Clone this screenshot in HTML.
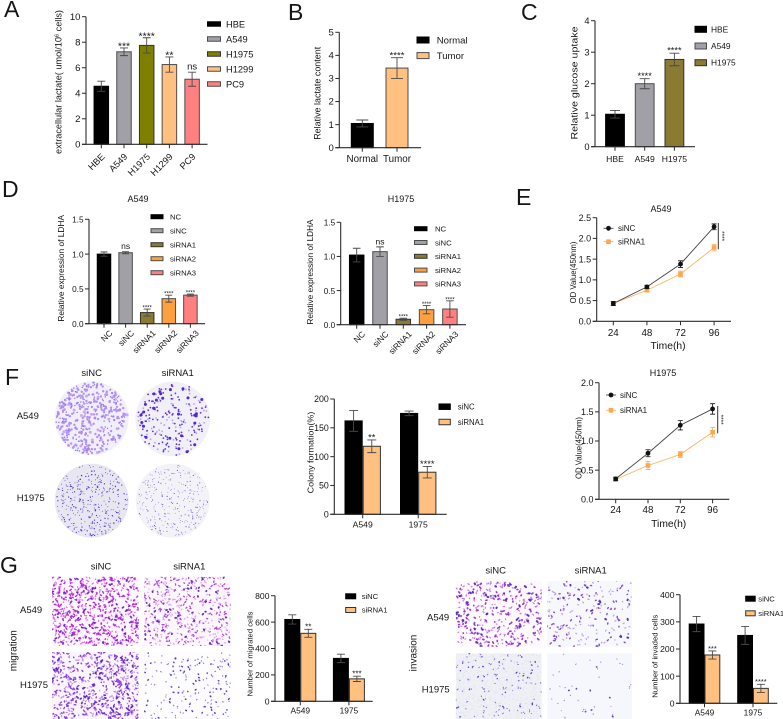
<!DOCTYPE html>
<html lang="en">
<head>
<meta charset="utf-8">
<title>Multi-panel figure</title>
<style>
html,body{margin:0;padding:0;background:#fff;}
svg{display:block;font-family:"Liberation Sans",Arial,sans-serif;filter:blur(0.3px);}
text{fill:#151515;}
</style>
</head>
<body>
<svg id="fig" width="783" height="719" viewBox="0 0 783 719" xmlns="http://www.w3.org/2000/svg">
<defs>
<filter id="soft" x="-5%" y="-5%" width="110%" height="110%"><feGaussianBlur stdDeviation="0.3"/></filter>
</defs>
<rect width="783" height="719" fill="#fff"/>
<text x="4" y="17" font-size="23">A</text>
<text x="288" y="20" font-size="23">B</text>
<text x="521" y="20" font-size="23">C</text>
<text x="2" y="197" font-size="23">D</text>
<text x="516" y="205" font-size="23">E</text>
<text x="5" y="385" font-size="23">F</text>
<text x="0" y="573" font-size="23">G</text>

<g id="panelA"></g>
<g id="panelB"></g>
<g id="panelC"></g>
<g id="panelD1"></g>
<g id="panelD2"></g>
<g id="panelE1"></g>
<g id="panelE2"></g>
<g id="panelF"></g>
<g id="panelG1"></g>
<g id="panelG2"></g>
<g id="photos"></g>

<text x="138" y="202" font-size="9" text-anchor="middle">A549</text>
<text x="401" y="202" font-size="9" text-anchor="middle">H1975</text>
<text x="661" y="212" font-size="9" text-anchor="middle">A549</text>
<text x="663" y="376" font-size="9" text-anchor="middle">H1975</text>

<text x="91.7" y="376" font-size="9.5" text-anchor="middle">siNC</text>
<text x="177.7" y="376" font-size="9.5" text-anchor="middle">siRNA1</text>
<text x="16.7" y="419" font-size="9.5">A549</text>
<text x="16.7" y="501" font-size="9.5">H1975</text>

<text x="101" y="569.3" font-size="9.5" text-anchor="middle">siNC</text>
<text x="189.3" y="569.3" font-size="9.5" text-anchor="middle">siRNA1</text>
<text x="20" y="613" font-size="9.5">A549</text>
<text x="20" y="688" font-size="9.5">H1975</text>
<text transform="translate(16.7 650.7) rotate(-90)" font-size="10" text-anchor="middle">migration</text>

<text x="495.7" y="573.3" font-size="9.5" text-anchor="middle">siNC</text>
<text x="590.7" y="573.3" font-size="9.5" text-anchor="middle">siRNA1</text>
<text x="427" y="620.7" font-size="9.5">A549</text>
<text x="421.7" y="692.7" font-size="9.5">H1975</text>
<text transform="translate(416.7 653) rotate(-90)" font-size="10" text-anchor="middle">invasion</text>
</svg>

<script>
/* ---------- chart data ---------- */
const aCategories = ['HBE','A549','H1975','H1299','PC9'];
const aValues = [4.55,7.25,7.75,6.25,5.1];
const aErrors = [0.4,0.3,0.6,0.6,0.55];
const aSig = ['','***','****','**','ns'];
const aTicks = ['0','2','4','6','8','10'];

const bCategories = ['Normal','Tumor'];
const bValues = [1.05,3.45];
const bErrors = [0.15,0.45];
const bSig = ['','****'];
const bTicks = ['0','1','2','3','4','5'];

const cCategories = ['HBE','A549','H1975'];
const cValues = [1.03,2.0,2.77];
const cErrors = [0.12,0.16,0.2];
const cSig = ['','****','****'];
const cTicks = ['0','1','2','3','4'];

const dCategories = ['NC','siNC','siRNA1','siRNA2','siRNA3'];
const d1Values = [1.0,1.02,0.16,0.36,0.41];
const d1Errors = [0.03,0.015,0.05,0.05,0.015];
const d1Sig = ['','ns','****','****','****'];
const d2Values = [1.02,1.07,0.08,0.22,0.23];
const d2Errors = [0.1,0.07,0.015,0.06,0.12];
const d2Sig = ['','ns','****','****','****'];
const dTicks = ['0.0','0.5','1.0','1.5'];

const eHours = ['24','48','72','96'];
const eSeriesNames = ['siNC','siRNA1'];
const e1Nc = [0.43,0.83,1.38,2.28];
const e1NcErr = [0.05,0.04,0.08,0.07];
const e1Si = [0.43,0.75,1.14,1.78];
const e1SiErr = [0.03,0.04,0.07,0.08];
const e1Ticks = ['0.0','0.5','1.0','1.5','2.0','2.5'];
const e2Nc = [0.35,0.79,1.27,1.55];
const e2NcErr = [0.03,0.06,0.08,0.09];
const e2Si = [0.34,0.58,0.77,1.15];
const e2SiErr = [0.03,0.07,0.05,0.08];
const e2Ticks = ['0.0','0.5','1.0','1.5','2.0'];

const groupSeriesNames = ['siNC','siRNA1'];
const fCategories = ['A549','1975'];
const fNc = [162,175];
const fNcErr = [18,4];
const fSi = [118,73];
const fSiErr = [11,10];
const fSiSig = ['**','****'];
const fTicks = ['0','50','100','150','200'];

const g1Categories = ['A549','1975'];
const g1Nc = [620,325];
const g1NcErr = [35,32];
const g1Si = [515,170];
const g1SiErr = [30,20];
const g1SiSig = ['**','***'];
const g1Ticks = ['0','200','400','600','800'];

const g2Categories = ['A549','1975'];
const g2Nc = [292,250];
const g2NcErr = [28,33];
const g2Si = [178,55];
const g2SiErr = [15,15];
const g2SiSig = ['***','****'];
const g2Ticks = ['0','100','200','300','400'];

/* ---------- helpers ---------- */
const NS = 'http://www.w3.org/2000/svg';
const INK = '#2b2b2b';
function el(tag, attrs, parent){
  const n = document.createElementNS(NS, tag);
  for (const k in attrs) n.setAttribute(k, attrs[k]);
  parent.appendChild(n);
  return n;
}
function yScale(L, v, ticks){
  const max = parseFloat(ticks[ticks.length-1]);
  return L.y0 - (v/max)*(L.y0-L.yTop);
}
function drawYAxis(g, L, ticks){
  const axis = el('line',{x1:L.axisX,x2:L.axisX,y1:L.yTop,y2:L.y0,stroke:INK,'stroke-width':1.1},g);
  
  
  const base = el('line',{x1:L.axisX-4,x2:L.xEnd,y1:L.y0,y2:L.y0,stroke:INK,'stroke-width':1.1},g);
  
  
  ticks.forEach(function(t){
    const y = yScale(L, parseFloat(t), ticks);
    const tick = el('line',{x1:L.axisX-4,x2:L.axisX,y1:y,y2:y,stroke:INK,'stroke-width':1},g);
    
    
    const lab = el('text',{x:L.axisX-5.5,y:y+3.2,'font-size':L.tickFont,'text-anchor':'end'},g);
    
    
    lab.textContent = t;
  });
}
function drawYTitle(g, L){
  const t = el('text',{transform:'translate('+L.titleX+' '+L.titleY+') rotate(-90)','font-size':L.titleFont,'text-anchor':'middle',textLength:L.titleLen,lengthAdjust:'spacingAndGlyphs'},g);
  
  
  t.innerHTML = L.title;
}
function drawXTick(g, L, x, label){
  const tick = el('line',{x1:x,x2:x,y1:L.y0,y2:L.y0+4,stroke:INK,'stroke-width':1},g);
  
  
  let lab;
  if (L.rotate){
    const px = x+L.rotDx, py = L.y0+L.rotDy;
    lab = el('text',{transform:'translate('+px+' '+py+') rotate(-45)','font-size':L.xFont,'text-anchor':'end'},g);
  } else {
    lab = el('text',{x:x,y:L.xBase,'font-size':L.xFont,'text-anchor':'middle'},g);
  }
  
  
  lab.textContent = label;
}
function drawBar(g, L, cx, w, v, err, fill, stroke, ticks){
  const yv = yScale(L, v, ticks);
  const bar = el('rect',{x:cx-w/2+0.5,y:yv,width:w-1,height:L.y0-yv,fill:fill,stroke:stroke,'stroke-width':1},g);
  
  
  const top = yScale(L, v+err, ticks), bot = yScale(L, v-err, ticks);
  const cap = L.cap;
  const eb = el('path',{d:'M'+cx+' '+bot+'V'+top+'M'+(cx-cap)+' '+top+'H'+(cx+cap)+'M'+(cx-cap)+' '+bot+'H'+(cx+cap),stroke:'#4a4a4a','stroke-width':0.9,fill:'none'},g);
  
  
  return top;
}
function drawSig(g, L, cx, top, s){
  if (!s) return;
  const isNs = s === 'ns';
  const f = isNs ? L.nsFont : L.starFont;
  const y = isNs ? top-2.5 : top-L.starGap+0.58*f;
  const t = el('text',{x:cx,y:y,'font-size':f,'text-anchor':'middle'},g);
  
  
  t.textContent = s;
}
function drawLegend(g, L, names, fills, strokes){
  names.forEach(function(n,i){
    const y = L.legY + i*L.legStep;
    const sw = el('rect',{x:L.legX,y:y-L.legH/2,width:L.legW,height:L.legH,fill:fills[i],stroke:strokes[i],'stroke-width':1},g);
    
    
    const t = el('text',{x:L.legTextX,y:y+L.legFont*0.36,'font-size':L.legFont},g);
    
    
    t.textContent = n;
  });
}
function singleChart(id, L, cats, vals, errs, sig, ticks){
  const g = document.getElementById(id);
  cats.forEach(function(c,i){
    const cx = L.x0 + i*L.step;
    const top = drawBar(g, L, cx, L.barW, vals[i], errs[i], L.fills[i], L.strokes[i], ticks);
    drawSig(g, L, cx, top, sig[i]);
    drawXTick(g, L, cx, c);
  });
  drawYAxis(g, L, ticks);
  drawYTitle(g, L);
  drawLegend(g, L, cats, L.fills, L.strokes);
}
function groupChart(id, L, cats, nc, ncErr, si, siErr, sig, ticks){
  const g = document.getElementById(id);
  cats.forEach(function(c,i){
    const cx = L.x0 + i*L.step;
    drawBar(g, L, cx-L.barW/2, L.barW, nc[i], ncErr[i], '#000', '#000', ticks);
    const top = drawBar(g, L, cx+L.barW/2, L.barW, si[i], siErr[i], '#ffc080', '#333', ticks);
    drawSig(g, L, cx+L.barW/2, top, sig[i]);
    drawXTick(g, L, cx, c);
  });
  drawYAxis(g, L, ticks);
  drawYTitle(g, L);
  drawLegend(g, L, groupSeriesNames, ['#000','#ffc080'], ['#000','#333']);
}
function lineChart(id, L, hours, nc, ncErr, si, siErr, ticks){
  const g = document.getElementById(id);
  const xAt = function(i){ return L.x0 + i*L.step; };
  const styles = [
    {vals:nc, errs:ncErr, color:'#111', line:'#444'},
    {vals:si, errs:siErr, color:'#ffa64d', line:'#ffb468'}
  ];
  hours.forEach(function(h,i){ drawXTick(g, L, xAt(i), h); });
  styles.slice().reverse().forEach(function(s){
    const pts = s.vals.map(function(v,i){ return xAt(i)+','+yScale(L,v,ticks); }).join(' ');
    const line = el('polyline',{points:pts,fill:'none',stroke:s.line,'stroke-width':0.9},g);
    
    
  });
  styles.slice().reverse().forEach(function(s){
    const square = s.color !== '#111';
    s.vals.forEach(function(v,i){
      const x = xAt(i), y = yScale(L,v,ticks);
      const top = yScale(L,v+s.errs[i],ticks), bot = yScale(L,v-s.errs[i],ticks);
      const eb = el('path',{d:'M'+x+' '+bot+'V'+top+'M'+(x-2.5)+' '+top+'H'+(x+2.5)+'M'+(x-2.5)+' '+bot+'H'+(x+2.5),stroke:s.color,'stroke-width':0.8,fill:'none'},g);
      
      
      const mark = square
        ? el('rect',{x:x-2.3,y:y-2.3,width:4.6,height:4.6,fill:s.color},g)
        : el('circle',{cx:x,cy:y,r:2.4,fill:s.color},g);
      
      
    });
  });
  drawYAxis(g, L, ticks);
  drawYTitle(g, L);
  const xt = el('text',{x:L.xTitleX,y:L.xTitleY,'font-size':10.3,'text-anchor':'middle'},g);
  
  
  xt.textContent = 'Time(h)';
  eSeriesNames.forEach(function(n,i){
    const y = L.legY + i*L.legStep;
    const s = styles[i];
    const ln = el('line',{x1:L.legX,x2:L.legX+10,y1:y,y2:y,stroke:s.line,'stroke-width':0.9},g);
    
    
    const cx = L.legX+5;
    const m = i === 1
      ? el('rect',{x:cx-2.3,y:y-2.3,width:4.6,height:4.6,fill:s.color},g)
      : el('circle',{cx:cx,cy:y,r:2.4,fill:s.color},g);
    
    
    const t = el('text',{x:L.legTextX,y:y+2.9,'font-size':8},g);
    
    
    t.textContent = n;
  });
  const sb = el('line',{x1:L.sigX,x2:L.sigX,y1:L.sigTop,y2:L.sigBot,stroke:'#333','stroke-width':1},g);
  
  
  const st = el('text',{transform:'translate('+(L.sigX+1.5)+' '+((L.sigTop+L.sigBot)/2)+') rotate(90)','font-size':6.5,'text-anchor':'middle'},g);
  
  
  st.textContent = '****';
}

/* ---------- layouts ---------- */
const GREY='#a0a0a6', OLIVE='#7f7f00', PEACH='#ffc080', PINK='#ff8080', ORANGE='#ffa040', KHAKI='#8a7a32';
const EDGE='#4d4d4d';

singleChart('panelA',{axisX:86,yTop:16.7,y0:144.3,xEnd:207.5,x0:101.3,step:22.7,barW:15.5,cap:4,
  fills:['#000',GREY,OLIVE,PEACH,PINK],strokes:['#000',EDGE,'#333',EDGE,EDGE],
  tickFont:9.6,rotate:true,rotDx:4,rotDy:13,xFont:9.2,starFont:10.5,nsFont:9.5,starGap:4.5,
  title:'extracellular lactate( umol/10<tspan dy="-3" font-size="5.5">6</tspan><tspan dy="3"> cells)</tspan>',titleX:61.7,titleY:82,titleLen:144,titleFont:8.8,
  legX:207.5,legY:24,legStep:15,legW:13,legH:4.5,legTextX:226,legFont:9.3},
  aCategories,aValues,aErrors,aSig,aTicks);

singleChart('panelB',{axisX:339.3,yTop:32.3,y0:147.7,xEnd:421,x0:362.3,step:34.7,barW:23,cap:6,
  fills:['#000',PEACH],strokes:['#000',EDGE],
  tickFont:9.6,xFont:9.8,xBase:162,starFont:9.6,nsFont:9,starGap:5,
  title:'Relative lactate content',titleX:320.7,titleY:93.3,titleLen:93,titleFont:9,
  legX:417,legY:40,legStep:15.6,legW:12,legH:6,legTextX:436.7,legFont:9.6},
  bCategories,bValues,bErrors,bSig,bTicks);

singleChart('panelC',{axisX:595,yTop:20.7,y0:146.7,xEnd:695,x0:615,step:29.7,barW:19.8,cap:5,
  fills:['#000',GREY,KHAKI],strokes:['#000',EDGE,'#333'],
  tickFont:9.3,xFont:8.6,xBase:162,starFont:9.2,nsFont:9,starGap:5,
  title:'Relative glucose uptake',titleX:577.3,titleY:83,titleLen:113,titleFont:9.6,
  legX:695,legY:29.3,legStep:16.7,legW:11.5,legH:6,legTextX:711,legFont:8.4},
  cCategories,cValues,cErrors,cSig,cTicks);

singleChart('panelD1',{axisX:89,yTop:219.3,y0:323.7,xEnd:205,x0:104,step:21.6,barW:14.5,cap:3.5,
  fills:['#000',GREY,KHAKI,ORANGE,PINK],strokes:['#000',EDGE,'#333',EDGE,EDGE],
  tickFont:8.2,rotate:true,rotDx:9,rotDy:10,xFont:8.4,starFont:6,nsFont:8.5,starGap:3,
  title:'Relative expression of LDHA',titleX:64,titleY:268.3,titleLen:106.7,titleFont:8.3,
  legX:151,legY:216.7,legStep:14,legW:12,legH:4,legTextX:170,legFont:7.7},
  dCategories,d1Values,d1Errors,d1Sig,dTicks);

singleChart('panelD2',{axisX:340.7,yTop:222.3,y0:324.7,xEnd:466,x0:356.7,step:23.3,barW:15.5,cap:3.8,
  fills:['#000',GREY,KHAKI,ORANGE,PINK],strokes:['#000',EDGE,'#333',EDGE,EDGE],
  tickFont:8.2,rotate:true,rotDx:9,rotDy:10,xFont:8.4,starFont:6,nsFont:8.5,starGap:3,
  title:'Relative expression of LDHA',titleX:313,titleY:272,titleLen:105,titleFont:8.3,
  legX:414.5,legY:228.7,legStep:13.8,legW:12.5,legH:4,legTextX:435,legFont:7.7},
  dCategories,d2Values,d2Errors,d2Sig,dTicks);

lineChart('panelE1',{axisX:596.7,yTop:217.7,y0:321.3,xEnd:731,x0:613.3,step:33.6,
  tickFont:9,xFont:9.8,xBase:336,
  title:'OD Value(450nm)',titleX:576,titleY:272.5,titleLen:61.7,titleFont:8.1,
  xTitleX:668,xTitleY:349,legX:603.5,legY:228.3,legStep:13.4,legTextX:618,
  sigX:718.3,sigTop:223,sigBot:249.3},
  eHours,e1Nc,e1NcErr,e1Si,e1SiErr,e1Ticks);

lineChart('panelE2',{axisX:599,yTop:382.7,y0:499.3,xEnd:729.3,x0:615.7,step:32.3,
  tickFont:9,xFont:9.8,xBase:513,
  title:'OD Value(450nm)',titleX:581.7,titleY:448,titleLen:62,titleFont:8.1,
  xTitleX:668.7,xTitleY:527,legX:606,legY:395,legStep:15.3,legTextX:620,
  sigX:717.7,sigTop:406,sigBot:433.3},
  eHours,e2Nc,e2NcErr,e2Si,e2SiErr,e2Ticks);

groupChart('panelF',{axisX:334.3,yTop:399,y0:514.3,xEnd:446.7,x0:362.7,step:55.5,barW:18.2,cap:4.5,
  tickFont:8.8,xFont:8.6,xBase:527.7,starFont:9.3,nsFont:9,starGap:5,
  title:'Colony formation(%)',titleX:313.3,titleY:452.5,titleLen:81.7,titleFont:8.5,
  legX:439,legY:406.7,legStep:15.3,legW:11.3,legH:5.5,legTextX:457.7,legFont:7.8},
  fCategories,fNc,fNcErr,fSi,fSiErr,fSiSig,fTicks);

groupChart('panelG1',{axisX:275,yTop:595.7,y0:701.3,xEnd:372.7,x0:300.3,step:48.6,barW:16,cap:4,
  tickFont:8.6,xFont:8.4,xBase:713.3,starFont:8,nsFont:9,starGap:4.5,
  title:'Number of migrated cells',titleX:252.3,titleY:654,titleLen:85,titleFont:7.6,
  legX:345.7,legY:596.3,legStep:13.7,legW:10,legH:5,legTextX:361.7,legFont:7.6},
  g1Categories,g1Nc,g1NcErr,g1Si,g1SiErr,g1SiSig,g1Ticks);

groupChart('panelG2',{axisX:680,yTop:594.7,y0:703.3,xEnd:777.3,x0:704.5,step:48.5,barW:15.8,cap:4,
  tickFont:8.6,xFont:8.4,xBase:715.7,starFont:7.5,nsFont:9,starGap:4.5,
  title:'Number of invaded cells',titleX:657.3,titleY:656.3,titleLen:83,titleFont:7.6,
  legX:745.7,legY:598.7,legStep:14.6,legW:9.5,legH:5,legTextX:758.3,legFont:7.6},
  g2Categories,g2Nc,g2NcErr,g2Si,g2SiErr,g2SiSig,g2Ticks);

/* ---------- photographic panels (procedural texture, not chart data) ---------- */
let seed = 12345;
function rnd(){ seed = (seed*1664525 + 1013904223) % 4294967296; return seed/4294967296; }
const photos = document.getElementById('photos');

function colonyPlate(cx, cy, r, bg, layers){
  const g = el('g',{filter:'url(#soft)'},photos);
  
  
  const disc = el('circle',{cx:cx,cy:cy,r:r,fill:bg},g);
  
  
  layers.forEach(function(l){
    let d = '';
    for (let i=0;i<l.n;i++){
      const a = rnd()*Math.PI*2;
      const rr = r*0.97*Math.pow(rnd(), l.bias);
      const x = cx+Math.cos(a)*rr, y = cy+Math.sin(a)*rr;
      d += 'M'+x.toFixed(1)+' '+y.toFixed(1)+'h.01';
    }
    const p = el('path',{d:d,stroke:l.c,'stroke-width':l.w,'stroke-linecap':'round',fill:'none','stroke-opacity':l.o},g);
    
    
  });
}
function transwell(x, y, w, h, bg, layers){
  const g = el('g',{},photos);
  
  
  const clip = 'clip'+Math.round(x)+'_'+Math.round(y);
  const cp = el('clipPath',{id:clip},g);
  el('rect',{x:x,y:y,width:w,height:h},cp);
  const inner = el('g',{'clip-path':'url(#'+clip+')',filter:'url(#soft)'},g);
  const back = el('rect',{x:x,y:y,width:w,height:h,fill:bg},inner);
  
  
  layers.forEach(function(l){
    let d = '';
    for (let i=0;i<l.n;i++){
      const px = x+rnd()*w, py = y+rnd()*h;
      const dx = (rnd()-0.5)*l.len, dy = (rnd()-0.5)*l.len;
      d += 'M'+px.toFixed(1)+' '+py.toFixed(1)+'l'+dx.toFixed(1)+' '+dy.toFixed(1);
    }
    const p = el('path',{d:d,stroke:l.c,'stroke-width':l.w,'stroke-linecap':'round',fill:'none','stroke-opacity':l.o},inner);
    
    
  });
}

colonyPlate(91.7,418.3,37,'#f2effc',[
  {n:230,c:'#a585f0',w:2.4,o:.85,bias:.42},
  {n:160,c:'#8f6cec',w:1.5,o:.9,bias:.4},
  {n:40,c:'#b878e4',w:3,o:.6,bias:.6}]);
colonyPlate(172.7,419,37.3,'#f1eff7',[
  {n:80,c:'#b090e8',w:1.8,o:.8,bias:.5},
  {n:120,c:'#5a2ae0',w:1.8,o:.95,bias:.42},
  {n:26,c:'#4a1fd0',w:3,o:.95,bias:.35}]);
colonyPlate(91.7,500.7,37,'#e8e7f1',[
  {n:230,c:'#5a40d8',w:1,o:.9,bias:.5},
  {n:120,c:'#3a24c0',w:1.3,o:.9,bias:.55}]);
colonyPlate(172.7,500.7,37,'#f3f3f7',[
  {n:240,c:'#8a70e0',w:.9,o:.9,bias:.48},
  {n:60,c:'#6a48d8',w:1.2,o:.9,bias:.5}]);

transwell(52,576.7,86.7,69.3,'#fdf6fd',[
  {n:380,c:'#d050ee',w:1.2,o:.8,len:2.6},
  {n:280,c:'#a81ed0',w:1.4,o:.9,len:3.2},
  {n:70,c:'#5a20c0',w:1.7,o:.9,len:2.5}]);
transwell(144,576.7,86.7,69.3,'#fcf7fc',[
  {n:300,c:'#d080e8',w:1.1,o:.75,len:2.2},
  {n:190,c:'#a030d0',w:1.3,o:.85,len:2.8},
  {n:45,c:'#4a20c0',w:1.8,o:.9,len:2}]);
transwell(52,652,86.7,67,'#fbf6fd',[
  {n:320,c:'#b070ec',w:1.2,o:.8,len:2.8},
  {n:260,c:'#7a2cd4',w:1.4,o:.88,len:3.2},
  {n:60,c:'#4a20c0',w:1.7,o:.9,len:3}]);
transwell(144,652,86.7,67,'#fdfcff',[
  {n:120,c:'#8a60e0',w:1.1,o:.85,len:1.5},
  {n:60,c:'#4a28d0',w:1.5,o:.9,len:1.5}]);

transwell(455.7,581,86,65.7,'#fdf9fd',[
  {n:210,c:'#b860e8',w:1.2,o:.85,len:2.3},
  {n:130,c:'#8a20c8',w:1.6,o:.88,len:2.6},
  {n:38,c:'#4a20b8',w:2,o:.9,len:2.4}]);
transwell(547.3,581,85,65.7,'#f6f8fc',[
  {n:110,c:'#b080e0',w:1.2,o:.75,len:2},
  {n:80,c:'#7a30c8',w:1.4,o:.88,len:2.4},
  {n:14,c:'#4a20b8',w:2,o:.9,len:2.2}]);
transwell(455.7,653.3,86,66,'#eff0f5',[
  {n:800,c:'#ccccd8',w:.6,o:.7,len:.6},
  {n:110,c:'#7a60d8',w:1,o:.85,len:1.7},
  {n:30,c:'#4a30c0',w:1.3,o:.9,len:1.5}]);
transwell(547.3,653.3,85,66,'#f6f7fc',[
  {n:32,c:'#a070d8',w:1,o:.85,len:1.4},
  {n:8,c:'#5a30c0',w:1.6,o:.9,len:1.2}]);
</script>
</body>
</html>
